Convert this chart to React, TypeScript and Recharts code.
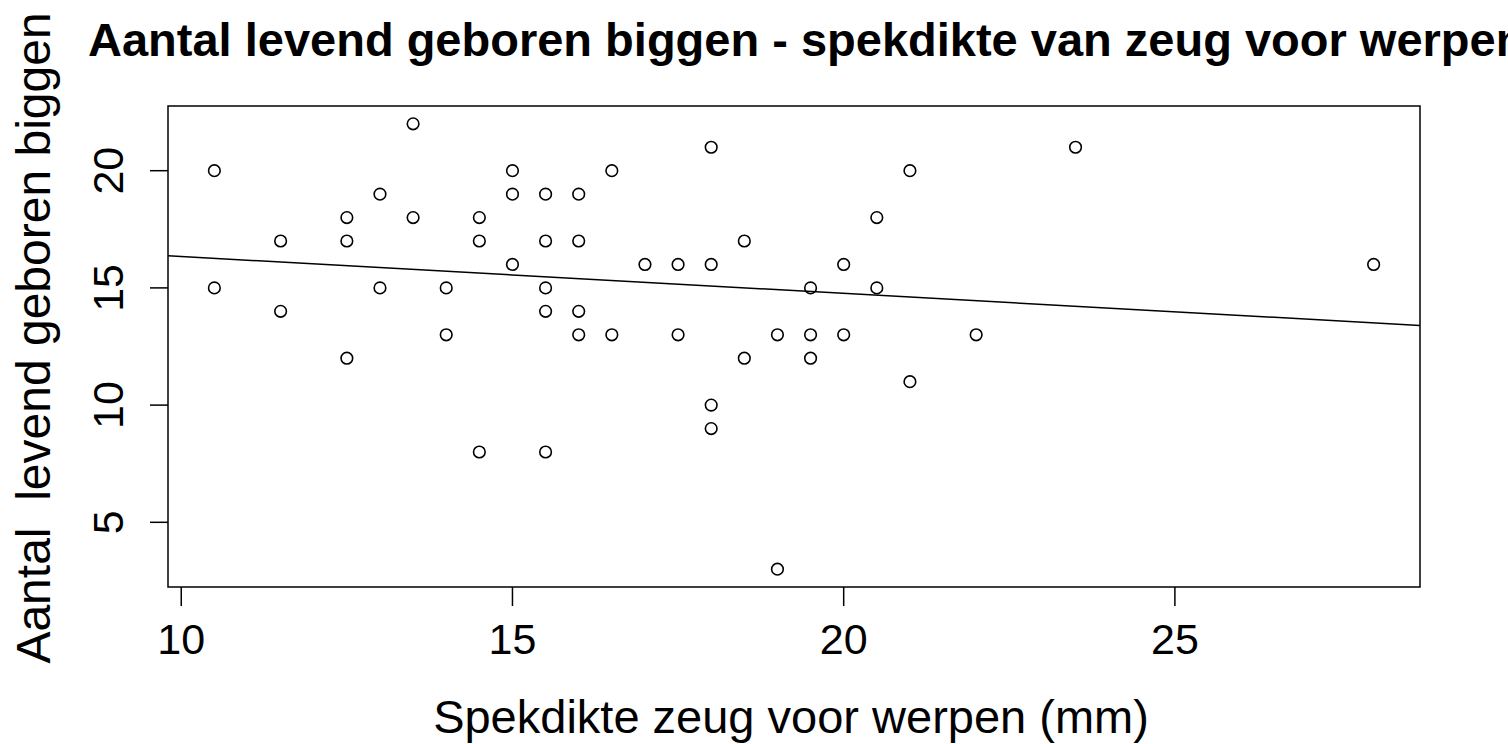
import { ScatterChart, Scatter, XAxis, YAxis, ReferenceArea, ReferenceLine } from "recharts"

const spekdikte = [
  10.5, 10.5, 11.5, 11.5, 12.5, 12.5, 12.5, 13, 13, 13.5, 13.5, 14, 14, 14.5, 14.5, 14.5,
  15, 15, 15, 15.5, 15.5, 15.5, 15.5, 15.5, 16, 16, 16, 16, 16.5, 16.5, 17, 17.5, 17.5,
  18, 18, 18, 18, 18.5, 18.5, 19, 19, 19.5, 19.5, 19.5, 20, 20, 20.5, 20.5, 21, 21, 22, 23.5, 28,
]
const biggen = [
  20, 15, 17, 14, 18, 17, 12, 19, 15, 22, 18, 15, 13, 18, 17, 8,
  20, 19, 16, 19, 17, 15, 14, 8, 19, 17, 14, 13, 20, 13, 16, 16, 13,
  21, 16, 10, 9, 17, 12, 13, 3, 15, 13, 12, 16, 13, 18, 15, 20, 11, 13, 21, 16,
]
const xTicks = [10, 15, 20, 25]
const yTicks = [5, 10, 15, 20]
const title = "Aantal levend geboren biggen - spekdikte van zeug voor werpen"
const xLabel = "Spekdikte zeug voor werpen (mm)"
const yLabel = "Aantal  levend geboren biggen"

const font = "'Liberation Sans', Arial, sans-serif"
const points = spekdikte.map((x, i) => ({ x, y: biggen[i] }))

// R pads the data range by 4% on each side
function padded(values: number[]): [number, number] {
  const lo = Math.min(...values)
  const hi = Math.max(...values)
  const pad = (hi - lo) * 0.04
  return [lo - pad, hi + pad]
}
const xDomain = padded(spekdikte)
const yDomain = padded(biggen)

// least squares fit, same as abline(lm(y ~ x))
const n = points.length
const mx = spekdikte.reduce((s, v) => s + v, 0) / n
const my = biggen.reduce((s, v) => s + v, 0) / n
let sxy = 0
let sxx = 0
points.forEach((p) => {
  sxy += (p.x - mx) * (p.y - my)
  sxx += (p.x - mx) * (p.x - mx)
})
const slope = sxy / sxx
const intercept = my - slope * mx
const fit = xDomain.map((x) => ({ x, y: intercept + slope * x }))

const XTick = (props: any) => (
  <text x={props.x} y={props.y + 46} textAnchor="middle" fontSize={43} fontFamily={font} fill="#000">
    {props.payload.value}
  </text>
)

const YTick = (props: any) => (
  <text
    transform={`translate(${props.x - 25}, ${props.y}) rotate(-90)`}
    textAnchor="middle"
    fontSize={43}
    fontFamily={font}
    fill="#000"
  >
    {props.payload.value}
  </text>
)

const Dot = (props: any) => <circle cx={props.cx} cy={props.cy} r={5.8} fill="none" stroke="#000" strokeWidth={1.6} />

export default function App() {
  return (
    <div style={{ position: "absolute", left: 0, top: 0, width: 1508, height: 744, background: "#fff", overflow: "hidden" }}>
      <ScatterChart width={1508} height={744} margin={{ top: 106, right: 88, bottom: 97, left: 108 }}>
        <XAxis
          type="number"
          dataKey="x"
          domain={xDomain}
          ticks={xTicks}
          allowDataOverflow
          height={60}
          axisLine={false}
          tickSize={19}
          tickMargin={2}
          tickLine={{ stroke: "#000", strokeWidth: 1.5 }}
          tick={XTick}
        />
        <YAxis
          type="number"
          dataKey="y"
          domain={yDomain}
          ticks={yTicks}
          allowDataOverflow
          width={60}
          axisLine={false}
          tickSize={18}
          tickMargin={2}
          tickLine={{ stroke: "#000", strokeWidth: 1.5 }}
          tick={YTick}
        />
        <ReferenceArea
          x1={xDomain[0]}
          x2={xDomain[1]}
          y1={yDomain[0]}
          y2={yDomain[1]}
          fill="none"
          fillOpacity={0}
          stroke="#000"
          strokeWidth={1.5}
          ifOverflow="visible"
        />
        <ReferenceLine segment={fit} stroke="#000" strokeWidth={1.5} ifOverflow="visible" />
        <Scatter data={points} shape={Dot} isAnimationActive={false} />
      </ScatterChart>
      <svg
        width={1508}
        height={744}
        style={{ position: "absolute", left: 0, top: 0, pointerEvents: "none" }}
      >
        <text x={88} y={56} textAnchor="start" fontSize={47} fontWeight="bold" fontFamily={font} fill="#000">
          {title}
        </text>
        <text x={791} y={733} textAnchor="middle" fontSize={47} fontFamily={font} fill="#000">
          {xLabel}
        </text>
        <text
          transform="translate(50, 338) rotate(-90)"
          textAnchor="middle"
          fontSize={48}
          fontFamily={font}
          fill="#000"
          style={{ whiteSpace: "pre" }}
        >
          {yLabel}
        </text>
      </svg>
    </div>
  )
}
